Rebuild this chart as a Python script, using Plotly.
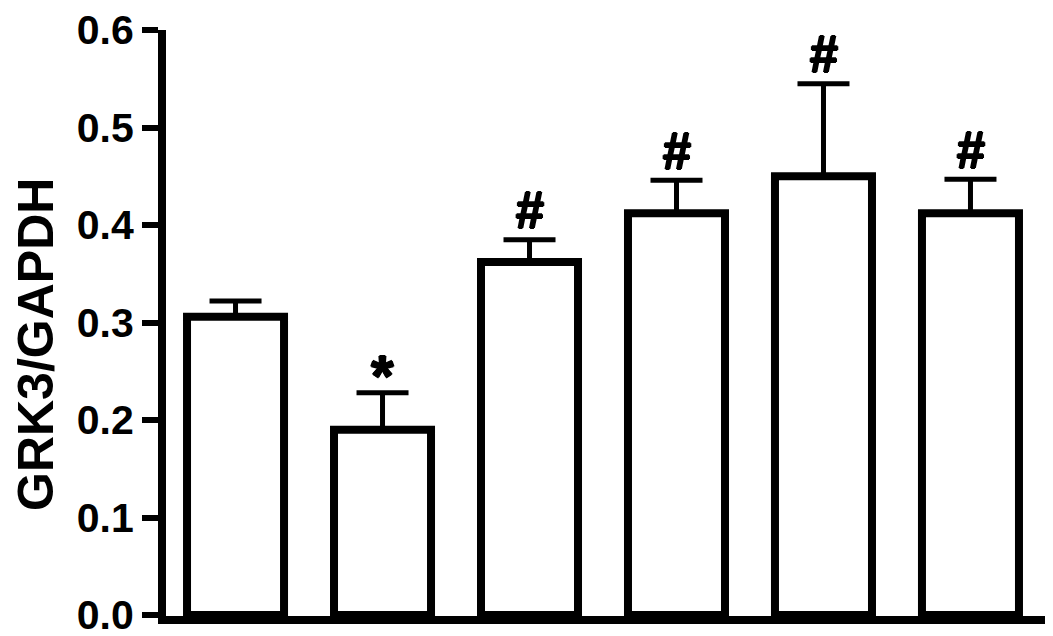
import plotly.graph_objects as go

groups = ["G1", "G2", "G3", "G4", "G5", "G6"]
means = [0.306, 0.190, 0.362, 0.412, 0.450, 0.412]
sems = [0.016, 0.038, 0.023, 0.034, 0.095, 0.035]
marks = ["", "*", "#", "#", "#", "#"]
yticks = [0.0, 0.1, 0.2, 0.3, 0.4, 0.5, 0.6]
ytext = ["0.0", "0.1", "0.2", "0.3", "0.4", "0.5", "0.6"]
ytitle = "GRK3/GAPDH"

FONT = "Liberation Sans"
THICK = "1px 0px 0px #000, -1px 0px 0px #000, 0px 1px 0px #000, 0px -1px 0px #000"

fig = go.Figure()
fig.add_trace(go.Bar(
    x=list(range(len(groups))),
    y=means,
    width=0.66,
    marker=dict(color="white", line=dict(color="black", width=8)),
    error_y=dict(type="data", array=sems, arrayminus=[0] * len(sems),
                 symmetric=False, color="black", thickness=5, width=26),
    hoverinfo="skip",
))

for i, (m, s, lab) in enumerate(zip(means, sems, marks)):
    if not lab:
        continue
    txt = "<b>" + lab + "</b>" if lab == "*" else "<b><i>" + lab + "</i></b>"
    fig.add_annotation(
        x=i, y=m + s, text=txt, showarrow=False,
        xanchor="center", yanchor="middle",
        yshift=17 if lab == "*" else 29,
        font=dict(family=FONT, size=58 if lab == "*" else 51, color="black",
                  shadow=THICK),
    )

fig.add_annotation(
    xref="paper", yref="paper", x=-0.148, y=0.464,
    text="<b>" + ytitle + "</b>", textangle=-90, showarrow=False,
    xanchor="center", yanchor="middle",
    font=dict(family=FONT, size=50, color="black"),
)

fig.update_layout(
    width=1053, height=636,
    margin=dict(l=166, r=8, t=30, b=20),
    paper_bgcolor="white", plot_bgcolor="white",
    showlegend=False,
    xaxis=dict(range=[-0.473, 5.507], showticklabels=False, ticks="",
               showgrid=False, zeroline=False, showline=True,
               linecolor="black", linewidth=8, fixedrange=True),
    yaxis=dict(range=[-0.001, 0.6], tickvals=yticks, ticktext=ytext,
               ticks="outside", ticklen=16, tickwidth=6, tickcolor="black",
               ticklabeloverflow="allow",
               showgrid=False, zeroline=False, showline=True,
               linecolor="black", linewidth=8,
               tickfont=dict(family=FONT, size=41, color="black", weight="bold"),
               automargin=False, fixedrange=True),
)

fig.write_html("out.html")
